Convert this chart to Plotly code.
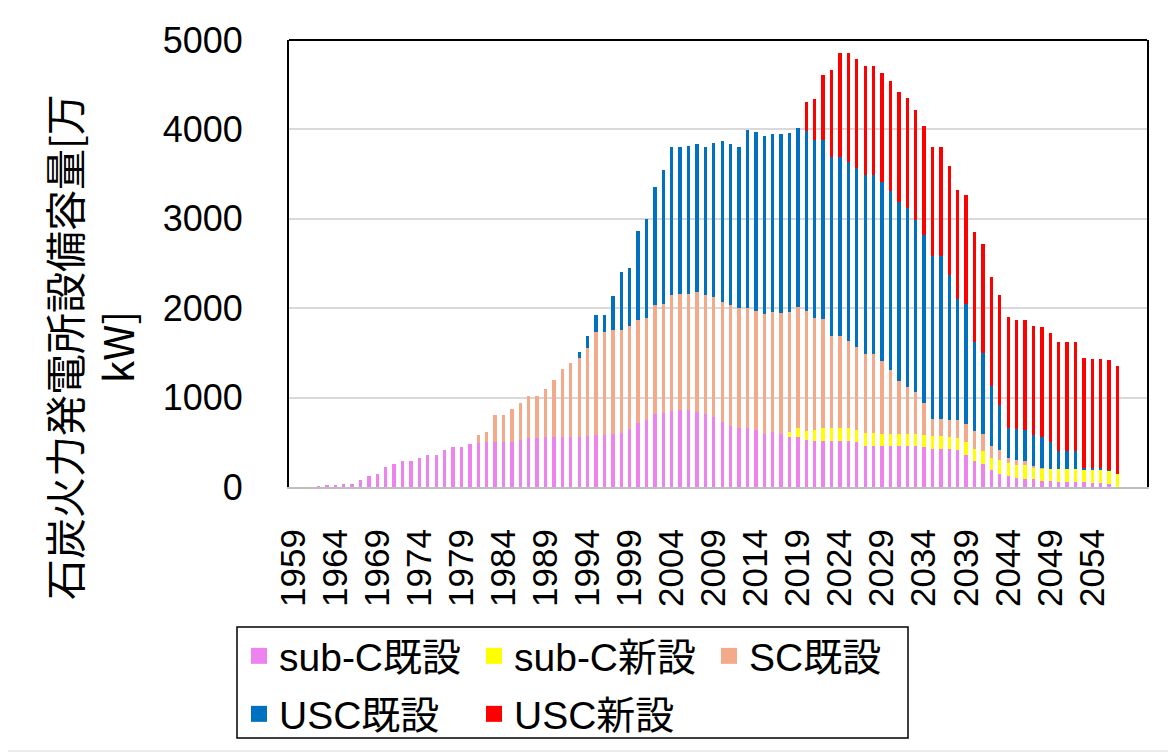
import plotly.graph_objects as go

years = list(range(1959, 2061))

sub_c_existing = [0, 0, 0, 5, 23, 20, 38, 38, 79, 121, 151, 219, 260, 291, 291, 321, 362, 362, 415, 449, 449,
                  483, 487, 498, 498, 498, 498, 525, 547, 547, 555, 555, 558, 558, 558, 572, 587, 587, 595, 602,
                  647, 714, 747, 814, 825, 851, 859, 866, 836, 814, 781, 725, 684, 662, 662, 636, 595, 610, 592,
                  558, 558, 521, 513, 510, 510, 510, 510, 499, 461, 461, 461, 461, 461, 461, 461, 447, 420, 420,
                  420, 409, 361, 287, 260, 193, 149, 123, 100, 93, 86, 67, 63, 56, 56, 56, 56, 48, 48, 30, 0,
                  0, 0, 0]

sub_c_new = [0] * 59 + [61, 106, 108, 130, 146, 149, 149, 149, 134, 142, 142, 134, 134, 134, 134, 134, 130, 146,
                        146, 138, 142, 141, 141, 138, 134, 149, 145, 142, 149, 137, 145, 142, 141, 141, 141, 141,
                        147, 147, 149, 141, 0, 0, 0]

sc_existing = [0] * 22 + [98, 121, 313, 313, 370, 411, 476, 476, 539, 641, 757, 830, 881, 982, 1149, 1149, 1160,
                          1156, 1156, 1156, 1149, 1219, 1220, 1298, 1297, 1294, 1346, 1338, 1349, 1342, 1349, 1345,
                          1342, 1338, 1342, 1342, 1355, 1341, 1346, 1344, 1243, 1228, 1033, 1033, 978, 937, 882,
                          882, 819, 718, 596, 521, 465, 368, 197, 197, 186, 193, 198, 197, 197, 127, 119, 52, 56,
                          45, 8, 4, 0, 0, 0, 0, 0, 0, 0, 0, 0, 0, 0, 0, 0]

usc_existing = [0] * 34 + [74, 137, 190, 190, 379, 643, 643, 996, 1100, 1328, 1502, 1651, 1649, 1654, 1653, 1655,
                           1714, 1807, 1802, 1800, 1992, 1993, 1989, 1996, 2001, 2005, 2003, 2007, 1999, 2001,
                           1998, 1998, 1997, 1995, 2002, 2002, 1994, 1999, 1998, 2002, 1928, 1875, 1819, 1819,
                           1626, 1355, 1347, 1001, 901, 673, 502, 342, 349, 353, 346, 346, 297, 205, 205, 205, 19,
                           17, 17, 7, 0, 0, 0, 0]

usc_new = [0] * 61 + [329, 457, 729, 969, 1166, 1222, 1228, 1227, 1227, 1228, 1224, 1224, 1232, 1224, 1221, 1224,
                      1224, 1217, 1220, 1224, 1224, 1224, 1221, 1232, 1236, 1221, 1228, 1228, 1231, 1225, 1224,
                      1224, 1224, 1224, 1221, 1221, 1232, 1217, 0, 0, 0]

series_names = ["sub-C既設", "sub-C新設", "SC既設", "USC既設", "USC新設"]
series_values = [sub_c_existing, sub_c_new, sc_existing, usc_existing, usc_new]
series_colors = ["#EE82EE", "#FFFF00", "#F4A98A", "#0070C0", "#FF0000"]
legend_rows = ["legend", "legend", "legend", "legend2", "legend2"]

tick_years = list(range(1959, 2055, 5))
y_ticks = [0, 1000, 2000, 3000, 4000, 5000]
y_title = "石炭火力発電所設備容量[万<br>kW]"

fig = go.Figure()
for name, vals, col, lg in zip(series_names, series_values, series_colors, legend_rows):
    fig.add_trace(go.Bar(x=years, y=vals, name=name, legendgroup=name, showlegend=False,
                         marker=dict(color=col, line=dict(width=0))))
# legend proxies (bigger square swatches)
for name, col, lg in zip(series_names, series_colors, legend_rows):
    fig.add_trace(go.Scatter(x=[None], y=[None], mode="markers", name=name, legendgroup=name, legend=lg,
                             marker=dict(symbol="square", size=20, color=col, line=dict(width=0))))

# page offset of the plot div (body margin) is 8px; figure sized so page coords match
OFF = 8
W, H = 1176 - OFF, 753 - OFF
ml, mr, mt, mb = 289 - OFF, 29, 40 - OFF, 266
pw, ph = W - ml - mr, H - mt - mb


def px_x(x):  # page x -> paper
    return (x - OFF - ml) / pw


def px_y(y):  # page y -> paper
    return (H - mb - (y - OFF)) / ph


legend_font = dict(size=39, family="Liberation Sans, Noto Sans CJK JP", color="black")
common_legend = dict(orientation="h", xanchor="left", yanchor="middle", borderwidth=0,
                     bgcolor="rgba(0,0,0,0)", font=legend_font, entrywidth=190,
                     entrywidthmode="pixels", itemsizing="trace", traceorder="normal")

fig.update_layout(
    width=W, height=H,
    margin=dict(l=ml, r=mr, t=mt, b=mb, autoexpand=False),
    barmode="stack", bargap=0.6,
    paper_bgcolor="white", plot_bgcolor="white",
    font=dict(family="Liberation Sans, Arial, Noto Sans CJK JP", color="black"),
    showlegend=True,
    legend=dict(x=px_x(239), y=px_y(656), **common_legend),
    legend2=dict(x=px_x(239), y=px_y(714), **common_legend),
    xaxis=dict(
        range=[1958.5, 2060.5], tickmode="array", tickvals=tick_years,
        ticktext=[str(y) for y in tick_years], tickangle=-90,
        tickfont=dict(size=35, family="Liberation Sans"), ticklabelstandoff=26,
        showgrid=False, showline=True, linecolor="#BFBFBF", linewidth=2, ticks="", zeroline=False,
    ),
    yaxis=dict(
        range=[0, 5000], tickmode="array", tickvals=y_ticks,
        tickfont=dict(size=36, family="Liberation Sans"), ticklabelstandoff=37,
        showgrid=True, gridcolor="#D9D9D9", gridwidth=2,
        showline=True, linecolor="black", linewidth=2, mirror=True, ticks="", zeroline=False,
    ),
    shapes=[
        dict(type="line", xref="paper", yref="paper", x0=0, x1=1, y0=1, y1=1,
             line=dict(color="black", width=2)),
        dict(type="rect", xref="paper", yref="paper", x0=px_x(237), x1=px_x(908), y0=px_y(738), y1=px_y(627),
             line=dict(color="black", width=1.5)),
        dict(type="rect", xref="paper", yref="paper", x0=px_x(1), x1=px_x(1174), y0=px_y(751), y1=px_y(1),
             line=dict(color="#D9D9D9", width=1)),
    ],
    annotations=[
        dict(text=y_title, xref="paper", yref="paper", x=px_x(90), y=px_y(347), xanchor="center",
             yanchor="middle", textangle=-90, showarrow=False, align="center",
             font=dict(size=41, family="Noto Sans CJK JP, Liberation Sans", color="black")),
    ],
)

fig.write_html("out.html")
